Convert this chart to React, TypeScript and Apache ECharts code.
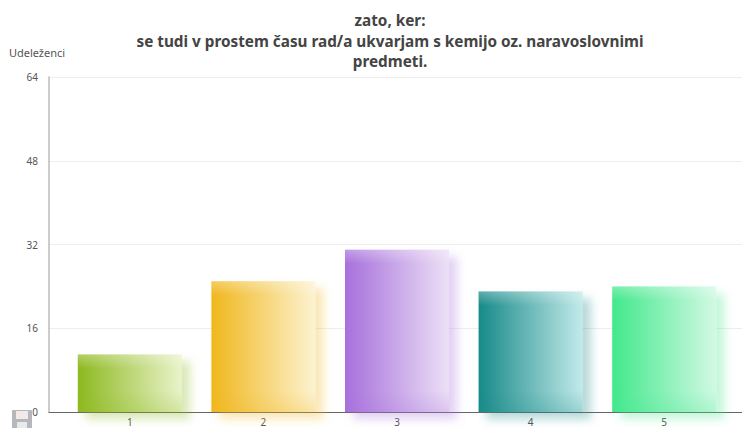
import React, { useEffect, useRef } from "react";
import * as echarts from "echarts";

const categories = ["1", "2", "3", "4", "5"];
const values = [11, 25, 31, 23, 24];
const startColors = ["#8db91f", "#f0b71c", "#a770dc", "#178a88", "#42e88c"];
const endColors = ["#e9f3cb", "#fdf3d2", "#ece0f6", "#c2eaea", "#d2f9e4"];
const yTicks = { min: 0, max: 64, interval: 16 };
const titleLines = [
  "zato, ker:",
  "se tudi v prostem času rad/a ukvarjam s kemijo oz. naravoslovnimi",
  "predmeti.",
];
const yName = "Udeleženci";

const FONT = "Noto Sans";
const PLOT_TOP = 77;
const PLOT_H = 335;

function rgba(hex: string, a: number) {
  const n = parseInt(hex.slice(1), 16);
  return `rgba(${(n >> 16) & 255},${(n >> 8) & 255},${n & 255},${a})`;
}

export default function App() {
  const ref = useRef<HTMLDivElement>(null);
  useEffect(() => {
    document.body.style.margin = "0";
    const chart = echarts.init(ref.current!, null, { renderer: "svg" });
    const pxPerUnit = PLOT_H / yTicks.max;
    chart.setOption({
      animation: false,
      backgroundColor: "#fff",
      title: {
        text: titleLines.join("\n"),
        left: 385,
        top: 5,
        textAlign: "center",
        textStyle: { fontFamily: FONT, fontSize: 15.3, fontWeight: "bold", color: "#444", lineHeight: 20.5 },
      },
      grid: [
        { left: 49, right: 0, top: PLOT_TOP, height: PLOT_H },
        { left: 63, right: 11, top: PLOT_TOP, height: PLOT_H },
      ],
      xAxis: [
        {
          type: "category",
          gridIndex: 0,
          data: categories,
          axisLine: { onZero: false, lineStyle: { color: "#666", width: 1 } },
          axisTick: { show: false },
          axisLabel: { show: false },
        },
        {
          type: "category",
          gridIndex: 1,
          data: categories,
          axisLine: { show: false },
          axisTick: { show: false },
          axisLabel: { fontFamily: FONT, fontSize: 10, color: "#555", margin: 5 },
        },
      ],
      yAxis: [
        {
          type: "value",
          gridIndex: 0,
          ...yTicks,
          name: yName,
          nameLocation: "end",
          nameGap: 19,
          nameTextStyle: { fontFamily: FONT, fontSize: 11, color: "#555", align: "center", padding: [0, 24, 0, 0] },
          axisLine: { show: true, lineStyle: { color: "#bbb", width: 1.5 } },
          axisTick: { show: false },
          axisLabel: { fontFamily: FONT, fontSize: 10, color: "#555", margin: 11 },
          splitLine: { lineStyle: { color: "#eeeeee", width: 1 } },
        },
        {
          type: "value",
          gridIndex: 1,
          ...yTicks,
          axisLine: { show: false },
          axisTick: { show: false },
          axisLabel: { show: false },
          splitLine: { show: false },
        },
      ],
      series: [
        {
          type: "bar",
          xAxisIndex: 1,
          yAxisIndex: 1,
          barWidth: 104,
          z: 3,
          data: values.map((v, i) => ({
            value: v,
            itemStyle: {
              color: {
                type: "linear", x: 0, y: 0, x2: 1, y2: 0,
                colorStops: [
                  { offset: 0, color: startColors[i] },
                  { offset: 1, color: endColors[i] },
                ],
              },
              shadowColor: rgba(startColors[i], 0.33),
              shadowBlur: 10,
              shadowOffsetX: 8,
              shadowOffsetY: 7,
            },
          })),
        },
        {
          type: "bar",
          xAxisIndex: 1,
          yAxisIndex: 1,
          barWidth: 104,
          barGap: "-100%",
          z: 4,
          data: values.map((v, i) => {
            const h = v * pxPerUnit;
            return {
              value: v,
              itemStyle: {
                color: {
                  type: "linear", x: 0, y: 0, x2: 0, y2: 1,
                  colorStops: [
                    { offset: 0, color: "rgba(255,255,255,0.3)" },
                    { offset: Math.min(0.45, 14 / h), color: "rgba(255,255,255,0)" },
                    { offset: Math.max(0.55, 1 - 22 / h), color: rgba(startColors[i], 0) },
                    { offset: 1, color: rgba(startColors[i], 0.22) },
                  ],
                },
              },
            };
          }),
        },
      ],
      graphic: [
        {
          type: "group",
          x: 12,
          y: 410,
          children: [
            { type: "rect", shape: { x: 0, y: 0, width: 20, height: 20, r: 1 }, style: { fill: "#b4b8bd" } },
            { type: "rect", shape: { x: 4, y: 1, width: 12, height: 8 }, style: { fill: "#f4e9e9" } },
            { type: "rect", shape: { x: 5, y: 12, width: 10, height: 8 }, style: { fill: "#e8eaec" } },
          ],
        },
      ],
    });
    return () => chart.dispose();
  }, []);
  return <div ref={ref} style={{ width: 742, height: 428 }} />;
}
